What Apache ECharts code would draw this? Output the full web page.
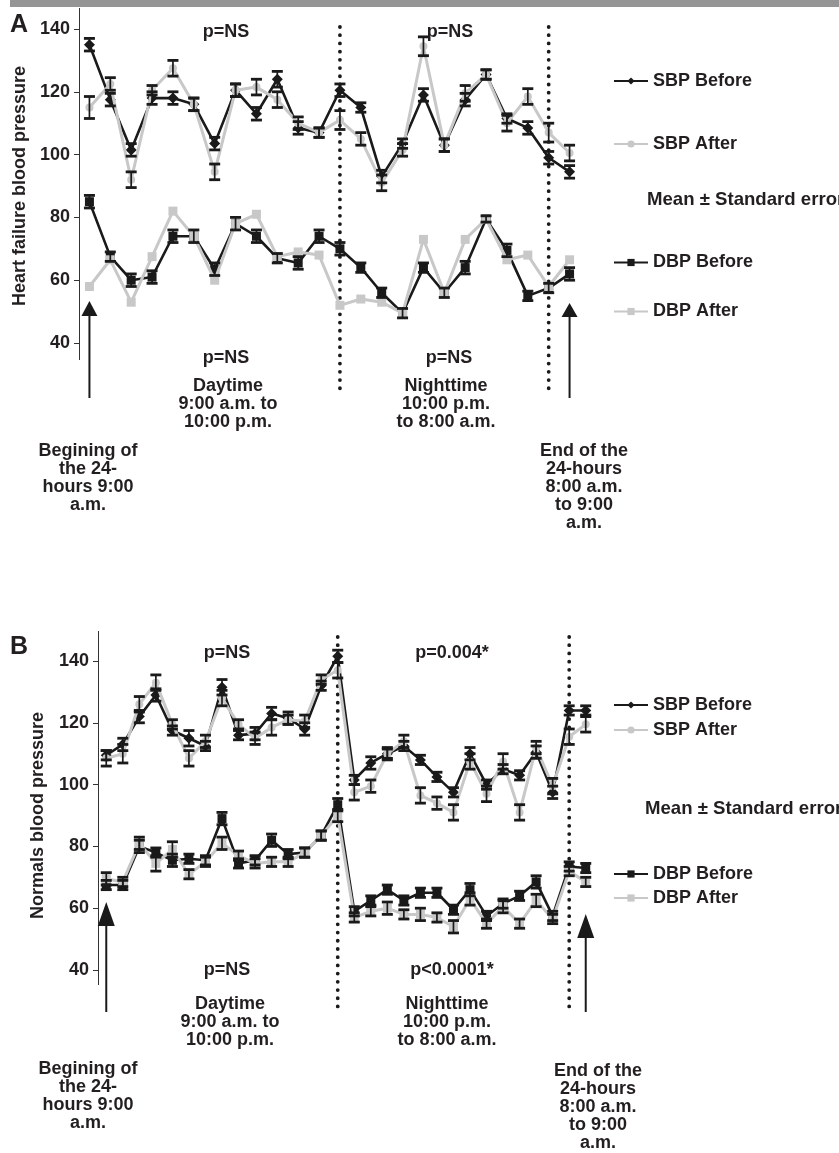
<!DOCTYPE html>
<html><head><meta charset="utf-8">
<script src="https://cdn.jsdelivr.net/npm/echarts@6/dist/echarts.min.js"></script>
<style>html,body{margin:0;padding:0;background:#fff}#c{width:839px;height:1153px}</style>
</head><body><div id="c"></div>
<script>
// ---------- DATA ----------
const pointsA = ['1','2','3','4','5','6','7','8','9','10','11','12','13','14','15','16','17','18','19','20','21','22','23','24'];
const pointsB = ['1','2','3','4','5','6','7','8','9','10','11','12','13','14','15','16','17','18','19','20','21','22','23','24','25','26','27','28','29','30'];
const yTicks = [40, 60, 80, 100, 120, 140];

// Panel A - heart failure
const sbpBeforeA = [135, 117.5, 101.5, 118, 118, 116, 103.5, 120.5, 113, 124, 108.5, 107, 120.5, 115, 93, 103.5, 119, 103, 117.5, 125.5, 111.5, 108.5, 99, 94.5];
const sbpAfterA  = [115, 122.5, 92, 120.5, 127.5, 116, 94.5, 120.5, 121.5, 117.5, 110, 107, 111, 105, 91, 101.5, 134.5, 103, 119.5, 125.5, 110, 118.5, 107, 100.5];
const dbpBeforeA = [85, 67.5, 60, 61, 74, 74, 63.5, 78, 74, 67, 65.5, 74, 70, 64, 56, 49.5, 64, 56, 64, 79.5, 69.5, 55, 57.5, 62];
const dbpAfterA  = [58, 66.5, 53, 67.5, 82, 74, 60, 78, 81, 67.5, 69, 68, 52, 54, 53, 49.5, 73, 56, 73, 79.5, 66.5, 68, 58, 66.5];
const seSbpBeforeA = [2, 2, 2, 2, 2, 2, 2, 2, 2, 2.5, 2, 1.5, 2, 1.5, 2, 1.5, 2, 2, 2, 1.5, 1.5, 2, 2, 2];
const seSbpAfterA  = [3.5, 2, 2.5, 1.5, 2.5, 2, 2.5, 2, 2.5, 2.5, 2, 1.5, 3, 2, 2.5, 2, 3, 2, 2.5, 1.5, 2.5, 2.5, 3, 2.5];
const seDbpBeforeA = [2, 1.5, 2, 2, 2, 2, 2, 2, 2, 1.5, 2, 2, 2, 1.5, 1.5, 1.5, 1.5, 1.5, 2, 1, 2, 1.5, 1.5, 2];

// Panel B - normals
const sbpBeforeB = [109.5, 113, 122, 129, 117.5, 115, 112.5, 131.5, 116, 116.5, 123, 121.5, 118, 132, 141.5, 101.5, 107, 110, 112.5, 108, 102.5, 97.5, 110, 100, 105, 103, 110.5, 97.5, 124, 124];
const sbpAfterB  = [108.5, 110, 126, 133, 119.5, 108.5, 114, 128, 119.5, 115, 118.5, 121, 120.5, 134, 137, 97.5, 99.5, 110, 114, 96.5, 94, 91, 107.5, 97, 107.5, 91, 112, 99.5, 115.5, 119.5];
const dbpBeforeB = [67.5, 67.5, 80, 78, 75.5, 76, 75.5, 89, 74.5, 75.5, 82, 77.5, 78, 83.5, 93.5, 59, 62.5, 66, 62.5, 65, 65, 59.5, 66, 57.5, 61.5, 64, 68.5, 57.5, 73.5, 73];
const dbpAfterB  = [69.5, 68.5, 81, 74.5, 79, 71, 75, 81, 77, 74.5, 75, 75, 78, 83.5, 90, 57, 59, 60, 58, 58, 57, 54, 63, 55, 60.5, 55, 62.5, 56.5, 72, 68.5];
const seSbpBeforeB = [1.5, 2, 2, 2, 1.5, 2.5, 1.5, 2.5, 1.5, 2, 2, 2, 2, 1.5, 2, 1.5, 2, 1.5, 1.5, 1.5, 1.5, 1.5, 2, 1.5, 1.5, 1.5, 2, 2, 1.5, 1.5];
const seSbpAfterB  = [2.5, 3, 2.5, 2.5, 1.5, 2.5, 2, 2.5, 1.5, 2, 2.5, 1.5, 2, 1.5, 2.5, 2.5, 2, 2, 2, 2.5, 2, 2.5, 2.5, 2.5, 2.5, 2.5, 2, 2.5, 2.5, 2.5];
const seDbpBeforeB = [1.5, 1.5, 2, 1.5, 2, 1.5, 1.5, 2, 1.5, 1.5, 2, 1.5, 1.5, 1.5, 2, 1.5, 1.5, 1.5, 1.5, 1.5, 1.5, 1.5, 2, 1.5, 1.5, 1.5, 2, 1.5, 1.5, 1.5];
const seDbpAfterB  = [2, 1.5, 2, 2.5, 2.5, 1.5, 1.5, 2, 1.5, 1.5, 1.5, 1.5, 1.5, 1.5, 2, 1.5, 1.5, 2, 1.5, 2, 1.5, 2, 2, 1.5, 2, 1.5, 2, 1.5, 1.5, 1.5];

// period boundaries (point index)
const dividersA = [12, 22];
const dividersB = [14, 28];

// ---------- STYLE ----------
const FONT = '"Liberation Sans", Arial, Helvetica, sans-serif';
const BLACK = '#1a1a1a', GRAY = '#c8c8c8', TXT = '#231f20';

function yAxisCfg(grid, name, gap) {
  return {
    type: 'value', gridIndex: grid, min: yTicks[0], max: yTicks[yTicks.length - 1], interval: 20,
    name: name, nameLocation: 'middle', nameGap: gap, nameRotate: 90,
    nameTextStyle: { fontSize: 18, fontWeight: 'bold', color: TXT, fontFamily: FONT },
    axisLine: { show: false },
    axisTick: { show: true, length: 5, lineStyle: { color: '#333', width: 1 } },
    axisLabel: { fontSize: 18, fontWeight: 'bold', color: TXT, fontFamily: FONT, margin: 9 },
    splitLine: { show: false }
  };
}
function line(name, data, g, color, symbol, size, width, z) {
  return {
    type: 'line', name: name, xAxisIndex: g, yAxisIndex: g, data: data,
    symbol: symbol, symbolSize: size, showSymbol: true, showAllSymbol: true,
    lineStyle: { color: color, width: width }, itemStyle: { color: color, borderWidth: 0 },
    clip: false, z: z, silent: true, animation: false
  };
}
function errBars(values, se, g) {
  return {
    type: 'custom', xAxisIndex: g, yAxisIndex: g, clip: false, z: 6, silent: true, animation: false,
    encode: { x: 0, y: [1, 2] },
    data: values.map((v, i) => [i, v - se[i], v + se[i]]),
    renderItem: function (params, api) {
      const i = api.value(0);
      const lo = api.coord([i, api.value(1)]);
      const hi = api.coord([i, api.value(2)]);
      const hw = 5.5;
      const st = { stroke: BLACK, lineWidth: 1.7 };
      const cap = { stroke: BLACK, lineWidth: 2.8 };
      return { type: 'group', children: [
        { type: 'line', shape: { x1: lo[0], y1: lo[1], x2: hi[0], y2: hi[1] }, style: st },
        { type: 'line', shape: { x1: lo[0] - hw, y1: lo[1], x2: lo[0] + hw, y2: lo[1] }, style: cap },
        { type: 'line', shape: { x1: hi[0] - hw, y1: hi[1], x2: hi[0] + hw, y2: hi[1] }, style: cap }
      ]};
    }
  };
}
function legendCfg(names, top, gap) {
  return {
    data: names, orient: 'vertical', left: 613, top: top, itemGap: gap, padding: 0,
    itemWidth: 34, itemHeight: 9, selectedMode: false,
    textStyle: { fontSize: 18, fontWeight: 'bold', color: TXT, fontFamily: FONT, lineHeight: 18 }
  };
}

const option = {
  backgroundColor: '#fff',
  animation: false,
  grid: [
    { left: 79, top: 29, width: 501, height: 314, outerBoundsMode: 'none', containLabel: false },
    { left: 98, top: 661, width: 496, height: 309, outerBoundsMode: 'none', containLabel: false }
  ],
  xAxis: [
    { type: 'category', gridIndex: 0, data: pointsA, boundaryGap: true, show: false },
    { type: 'category', gridIndex: 1, data: pointsB, boundaryGap: true, show: false }
  ],
  yAxis: [ yAxisCfg(0, 'Heart failure blood pressure', 50), yAxisCfg(1, 'Normals blood pressure', 51) ],
  legend: [
    legendCfg(['SBP Before', 'SBP After'], 72, 45),
    legendCfg(['DBP Before', 'DBP After'], 253.5, 31),
    legendCfg(['SBP Before', 'SBP After'], 696, 7),
    legendCfg(['DBP Before', 'DBP After'], 865, 6)
  ],
  series: [
    line('SBP Before', sbpBeforeA, 0, BLACK, 'diamond', 11, 2.6, 3),
    line('DBP Before', dbpBeforeA, 0, BLACK, 'rect', 9, 2.6, 3),
    line('SBP After', sbpAfterA, 0, GRAY, 'circle', 8, 3, 4),
    line('DBP After', dbpAfterA, 0, GRAY, 'rect', 9, 3, 4),
    errBars(sbpBeforeA, seSbpBeforeA, 0),
    errBars(sbpAfterA, seSbpAfterA, 0),
    errBars(dbpBeforeA, seDbpBeforeA, 0),

    line('SBP Before', sbpBeforeB, 1, BLACK, 'diamond', 11, 2.6, 3),
    line('DBP Before', dbpBeforeB, 1, BLACK, 'rect', 9, 2.6, 3),
    line('SBP After', sbpAfterB, 1, GRAY, 'circle', 8, 3, 4),
    line('DBP After', dbpAfterB, 1, GRAY, 'rect', 9, 3, 4),
    errBars(sbpBeforeB, seSbpBeforeB, 1),
    errBars(sbpAfterB, seSbpAfterB, 1),
    errBars(dbpBeforeB, seDbpBeforeB, 1),
    errBars(dbpAfterB, seDbpAfterB, 1)
  ]
};

const chart = echarts.init(document.getElementById('c'), null, { renderer: 'canvas' });
chart.setOption(option);

// ---------- decorations (x positions derived from the axes) ----------
function px(g, idx, val) { return chart.convertToPixel({ gridIndex: g }, [idx, val]); }
const G = [];
function txt(text, x, y, size, align) {
  G.push({ type: 'text', z: 10, style: { text: text, x: x, y: y, align: align || 'center', verticalAlign: 'top',
    fontSize: size || 18, fontWeight: 'bold', fontFamily: FONT, fill: TXT, lineHeight: 18 } });
}
function dotted(x, y1, y2) {
  G.push({ type: 'line', z: 1, shape: { x1: x, y1: y1, x2: x, y2: y2 },
    style: { stroke: BLACK, lineWidth: 3.8, lineDash: [0.01, 8.2], lineCap: 'round' } });
}
function arrow(x, headTop, headBase, headW, bottom) {
  G.push({ type: 'line', z: 10, shape: { x1: x, y1: headBase - 1, x2: x, y2: bottom }, style: { stroke: BLACK, lineWidth: 2 } });
  G.push({ type: 'polygon', z: 10, shape: { points: [[x, headTop], [x - headW / 2, headBase], [x + headW / 2, headBase]] }, style: { fill: BLACK } });
}
function vaxis(x, y1, y2) {
  G.push({ type: 'line', z: 2, shape: { x1: x, y1: y1, x2: x, y2: y2 }, style: { stroke: '#333', lineWidth: 1 } });
}

// top grey band
G.push({ type: 'rect', z: 0, shape: { x: 10, y: 0, width: 829, height: 7 }, style: { fill: '#959595' } });

// Panel A
vaxis(79.5, 8, 360);
dividersA.forEach(i => dotted(px(0, i, 100)[0], 27, 396));
arrow(px(0, 0, 100)[0], 301, 316, 16, 398);
arrow(px(0, pointsA.length - 1, 100)[0], 303, 317, 16, 398);
G.push({ type: 'text', z: 10, style: { text: 'A', x: 10, y: 13, fontSize: 25, fontWeight: 'bold', fontFamily: FONT, fill: TXT } });
txt('p=NS', 226, 23); txt('p=NS', 450, 23);
txt('p=NS', 226, 349); txt('p=NS', 449, 349);
txt('Daytime\n9:00 a.m. to\n10:00 p.m.', 228, 377);
txt('Nighttime\n10:00 p.m.\nto 8:00 a.m.', 446, 377);
txt('Begining of\nthe 24-\nhours 9:00\na.m.', 88, 442);
txt('End of the\n24-hours\n8:00 a.m.\nto 9:00\na.m.', 584, 442);
txt('Mean \u00b1 Standard error', 647, 191, 18.6, 'left');

// Panel B
vaxis(98.5, 631, 985);
dividersB.forEach(i => dotted(px(1, i, 100)[0], 637, 1012));
arrow(px(1, 0, 100)[0], 902, 926, 17, 1012);
arrow(px(1, pointsB.length - 1, 100)[0], 914, 938, 17, 1012);
G.push({ type: 'text', z: 10, style: { text: 'B', x: 10, y: 635, fontSize: 25, fontWeight: 'bold', fontFamily: FONT, fill: TXT } });
txt('p=NS', 227, 644); txt('p=0.004*', 452, 644);
txt('p=NS', 227, 961); txt('p<0.0001*', 452, 961);
txt('Daytime\n9:00 a.m. to\n10:00 p.m.', 230, 995);
txt('Nighttime\n10:00 p.m.\nto 8:00 a.m.', 447, 995);
txt('Begining of\nthe 24-\nhours 9:00\na.m.', 88, 1060);
txt('End of the\n24-hours\n8:00 a.m.\nto 9:00\na.m.', 598, 1062);
txt('Mean \u00b1 Standard error', 645, 800, 18.6, 'left');

chart.setOption({ graphic: G });
</script>
</body></html>
